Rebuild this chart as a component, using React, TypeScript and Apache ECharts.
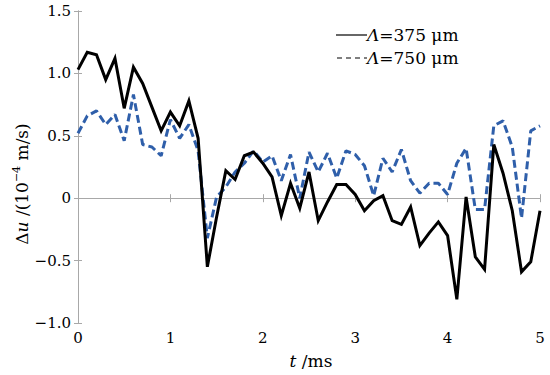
import React, { useEffect, useRef } from "react";
import * as echarts from "echarts";

const times = [
  0, 0.1, 0.2, 0.3, 0.4, 0.5, 0.6, 0.7, 0.8, 0.9,
  1.0, 1.1, 1.2, 1.3, 1.4, 1.5, 1.6, 1.7, 1.8, 1.9,
  2.0, 2.1, 2.2, 2.3, 2.4, 2.5, 2.6, 2.7, 2.8, 2.9,
  3.0, 3.1, 3.2, 3.3, 3.4, 3.5, 3.6, 3.7, 3.8, 3.9,
  4.0, 4.1, 4.2, 4.3, 4.4, 4.5, 4.6, 4.7, 4.8, 4.9, 5.0,
];

const lambda375 = [
  1.03, 1.17, 1.15, 0.95, 1.12, 0.72, 1.05, 0.92, 0.73, 0.54,
  0.69, 0.58, 0.78, 0.48, -0.55, -0.15, 0.22, 0.15, 0.34, 0.37,
  0.28, 0.17, -0.14, 0.12, -0.08, 0.21, -0.18, -0.03, 0.11, 0.11,
  0.03, -0.10, -0.02, 0.02, -0.18, -0.21, -0.07, -0.38, -0.28, -0.19,
  -0.30, -0.81, 0.01, -0.47, -0.57, 0.43, 0.20, -0.10, -0.59, -0.51, -0.10,
];

const lambda750 = [
  0.52, 0.66, 0.70, 0.59, 0.67, 0.46, 0.83, 0.43, 0.41, 0.34,
  0.63, 0.48, 0.59, 0.38, -0.32, 0.01, 0.09, 0.21, 0.28, 0.38,
  0.29, 0.34, 0.14, 0.35, 0.00, 0.37, 0.21, 0.36, 0.16, 0.38,
  0.35, 0.26, 0.02, 0.32, 0.21, 0.39, 0.14, 0.04, 0.12, 0.12,
  0.03, 0.28, 0.40, -0.09, -0.09, 0.58, 0.62, 0.41, -0.16, 0.54, 0.58,
];

const xTicks = [0, 1, 2, 3, 4, 5];
const yTickLabels: Record<string, string> = {
  "1.5": "1.5",
  "1": "1.0",
  "0.5": "0.5",
  "0": "0",
  "-0.5": "\u22120.5",
  "-1": "\u22121.0",
};

const FONT = "DejaVu Serif";
const FRAME = "#a8a8a8";
const BLUE = "#2f5faa";

export default function App() {
  const ref = useRef<HTMLDivElement>(null);
  useEffect(() => {
    document.body.style.margin = "0";
    if (!ref.current) return;
    const chart = echarts.init(ref.current, undefined, { renderer: "svg" });
    const axisCommon = {
      axisLine: { show: true, lineStyle: { color: FRAME, width: 1 } },
      axisTick: { show: true, inside: true, length: 4, lineStyle: { color: FRAME } },
      splitLine: { show: false },
    };
    const txt = (size: number, italic = false) => ({
      fontFamily: FONT,
      fontSize: size,
      fontStyle: italic ? "italic" : "normal",
      fill: "#000",
    });
    chart.setOption({
      animation: false,
      backgroundColor: "#ffffff",
      textStyle: { fontFamily: FONT },
      grid: { left: 78, right: 10, top: 11, bottom: 52, containLabel: false },
      xAxis: [
        {
          type: "value",
          min: 0,
          max: 5,
          interval: 1,
          position: "bottom",
          ...axisCommon,
          axisLabel: {
            color: "#000",
            fontFamily: FONT,
            fontSize: 15,
            margin: 7,
            formatter: (v: number) => (xTicks.includes(v) ? String(v) : ""),
          },
        },
        {
          type: "value",
          min: 0,
          max: 5,
          interval: 1,
          position: "top",
          ...axisCommon,
          axisLabel: { show: false },
        },
      ],
      yAxis: [
        {
          type: "value",
          min: -1,
          max: 1.5,
          interval: 0.5,
          position: "left",
          ...axisCommon,
          axisLabel: {
            color: "#000",
            fontFamily: FONT,
            fontSize: 15,
            margin: 7,
            formatter: (v: number) => yTickLabels[String(v)] ?? String(v),
          },
        },
        {
          type: "value",
          min: -1,
          max: 1.5,
          interval: 0.5,
          position: "right",
          ...axisCommon,
          axisLabel: { show: false },
        },
      ],
      series: [
        {
          name: "375",
          type: "line",
          data: times.map((t, i) => [t, lambda375[i]]),
          showSymbol: false,
          lineStyle: { color: "#000", width: 3, join: "miter" },
          z: 3,
        },
        {
          name: "750",
          type: "line",
          data: times.map((t, i) => [t, lambda750[i]]),
          showSymbol: false,
          lineStyle: { color: BLUE, width: 3, type: [8, 4] },
          z: 2,
        },
      ],
      graphic: [
        {
          type: "line",
          shape: { x1: 336, y1: 35, x2: 367, y2: 35 },
          style: { stroke: "#000", lineWidth: 1.2 },
        },
        {
          type: "text",
          x: 367,
          y: 35,
          style: {
            text: "{i|Λ}{n|=375 μm}",
            verticalAlign: "middle",
            rich: { i: txt(17, true), n: txt(17) },
          },
        },
        {
          type: "line",
          shape: { x1: 337, y1: 58, x2: 367, y2: 58 },
          style: { stroke: "#000", lineWidth: 1.2, lineDash: [5, 4] },
        },
        {
          type: "text",
          x: 367,
          y: 58,
          style: {
            text: "{i|Λ}{n|=750 μm}",
            verticalAlign: "middle",
            rich: { i: txt(17, true), n: txt(17) },
          },
        },
        {
          type: "text",
          x: 311,
          y: 361,
          style: {
            text: "{i|t}{n| /ms}",
            align: "center",
            verticalAlign: "middle",
            rich: { i: txt(17, true), n: txt(17) },
          },
        },
        {
          type: "text",
          x: 22,
          y: 184,
          rotation: Math.PI / 2,
          style: {
            text: "{n|Δ}{i|u}{n| /(10}{s|−4}{n| m/s)}",
            align: "center",
            verticalAlign: "middle",
            rich: {
              i: { ...txt(17, true), lineHeight: 22 },
              n: { ...txt(17), lineHeight: 22 },
              s: { ...txt(11), verticalAlign: "top", lineHeight: 22 },
            },
          },
        },
      ],
    });
    return () => chart.dispose();
  }, []);
  return <div ref={ref} style={{ width: 550, height: 375 }} />;
}
